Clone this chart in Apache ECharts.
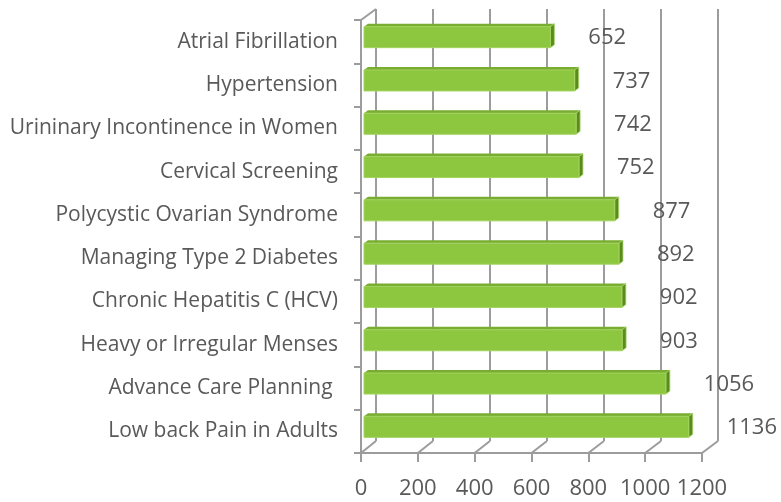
<!DOCTYPE html>
<html>
<head>
<meta charset="utf-8">
<script src="https://cdn.jsdelivr.net/npm/echarts@6/dist/echarts.min.js"></script>
<style>
  html, body { margin: 0; padding: 0; background: #fff; }
  #chart { width: 781px; height: 502px; }
</style>
</head>
<body>
<div id="chart"></div>
<script>
// data, top to bottom
var categories = [
  'Atrial Fibrillation',
  'Hypertension',
  'Urininary Incontinence in Women',
  'Cervical Screening',
  'Polycystic Ovarian Syndrome',
  'Managing Type 2 Diabetes',
  'Chronic Hepatitis C (HCV)',
  'Heavy or Irregular Menses',
  'Advance Care Planning ',
  'Low back Pain in Adults'
];
var counts = [652, 737, 742, 752, 877, 892, 902, 903, 1056, 1136];
var tickValues = [0, 200, 400, 600, 800, 1000, 1200];

var textColor = '#595959';
var lineColor = '#9c9c9c';
var font = '"Open Sans", "Liberation Sans", sans-serif';

var myChart = echarts.init(document.getElementById('chart'), null, { renderer: 'canvas' });

// back wall / front axis / bars live in three overlapping grids to fake the 3D look
var back = { left: 376, top: 9, width: 342, height: 432 };
var front = { left: 361, top: 20, width: 341, height: 433 };
var bars = { left: 364, top: 15.5, width: 343, height: 433 };

var option = {
  animation: false,
  grid: [back, front, bars],
  xAxis: [
    {
      gridIndex: 0, type: 'value', min: 0, max: 1200, interval: 200,
      axisLine: { show: false }, axisTick: { show: false }, axisLabel: { show: false },
      splitLine: { show: true, lineStyle: { color: lineColor, width: 2 } }
    },
    {
      gridIndex: 1, type: 'value', min: 0, max: 1200, interval: 200,
      axisLine: { show: true, lineStyle: { color: lineColor, width: 2 } },
      axisTick: { show: true, length: 9, lineStyle: { color: lineColor, width: 2 } },
      axisLabel: {
        color: textColor, fontSize: 22, fontFamily: font, margin: 25,
        formatter: function (v) { return String(v); }
      },
      splitLine: { show: false }
    },
    {
      gridIndex: 2, type: 'value', min: 0, max: 1200, show: false
    }
  ],
  yAxis: [
    { gridIndex: 0, type: 'category', data: categories, inverse: true, show: false },
    {
      gridIndex: 1, type: 'category', data: categories, inverse: true,
      axisLine: { show: true, lineStyle: { color: lineColor, width: 2 } },
      axisTick: { show: true, length: 7, lineStyle: { color: lineColor, width: 2 } },
      axisLabel: { color: textColor, fontSize: 21, fontFamily: font, margin: 23, padding: [3, 0, 0, 0] }
    },
    { gridIndex: 2, type: 'category', data: categories, inverse: true, show: false }
  ],
  series: [
    {
      type: 'custom',
      xAxisIndex: 2,
      yAxisIndex: 2,
      data: counts.map(function (v, i) { return [v, i]; }),
      renderItem: function (params, api) {
        var p0 = api.coord([0, api.value(1)]);
        var p1 = api.coord([api.value(0), api.value(1)]);
        var h = 21, d = 4, dv = 3;
        var yt = p0[1] - h / 2, yb = p0[1] + h / 2;
        var x0 = p0[0], x1 = p1[0];
        return {
          type: 'group',
          children: [
            {
              type: 'polygon',
              shape: { points: [[x0, yt], [x0 + d, yt - dv], [x1 + d, yt - dv], [x1, yt]] },
              style: { fill: '#79ad31' }
            },
            {
              type: 'polygon',
              shape: { points: [[x1, yt], [x1 + d, yt - dv], [x1 + d, yb - dv], [x1, yb]] },
              style: { fill: '#5b8a1f', stroke: '#a5d565', lineWidth: 0.8 }
            },
            {
              type: 'rect',
              shape: { x: x0, y: yt, width: x1 - x0, height: h },
              style: { fill: '#8dc63f', stroke: '#a2d35e', lineWidth: 1 }
            },
            {
              type: 'text',
              x: x1 + d + 34,
              y: p0[1] + 1,
              style: {
                text: String(api.value(0)),
                fill: textColor,
                font: '22px ' + font,
                align: 'left',
                verticalAlign: 'middle'
              }
            }
          ]
        };
      }
    }
  ]
};

myChart.setOption(option);

// floor edges: join each front tick to the matching back gridline
var lines = [];
var backBottom = back.top + back.height;
var frontBottom = front.top + front.height;
tickValues.forEach(function (v) {
  var fx = myChart.convertToPixel({ xAxisIndex: 1 }, v);
  var bx = myChart.convertToPixel({ xAxisIndex: 0 }, v);
  lines.push({
    type: 'line',
    shape: { x1: fx, y1: frontBottom, x2: bx, y2: backBottom },
    style: { stroke: lineColor, lineWidth: 2 }
  });
});
// left wall top edge
lines.push({
  type: 'line',
  shape: {
    x1: myChart.convertToPixel({ xAxisIndex: 1 }, 0), y1: front.top,
    x2: myChart.convertToPixel({ xAxisIndex: 0 }, 0), y2: back.top
  },
  style: { stroke: lineColor, lineWidth: 2 }
});
myChart.setOption({ graphic: lines });
</script>
</body>
</html>
